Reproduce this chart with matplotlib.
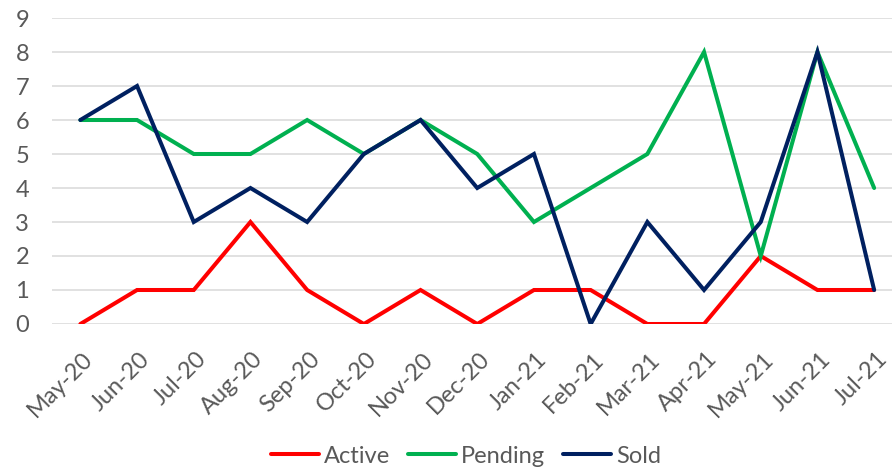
import matplotlib
matplotlib.use("Agg")
import matplotlib.pyplot as plt
from matplotlib.transforms import ScaledTranslation

months = ["May-20", "Jun-20", "Jul-20", "Aug-20", "Sep-20", "Oct-20", "Nov-20", "Dec-20",
          "Jan-21", "Feb-21", "Mar-21", "Apr-21", "May-21", "Jun-21", "Jul-21"]
active = [0, 1, 1, 3, 1, 0, 1, 0, 1, 1, 0, 0, 2, 1, 1]
pending = [6, 6, 5, 5, 6, 5, 6, 5, 3, 4, 5, 8, 2, 8, 4]
sold = [6, 7, 3, 4, 3, 5, 6, 4, 5, 0, 3, 1, 3, 8, 1]

plt.rcParams['font.family'] = ['Lato', 'DejaVu Sans']

W, H = 892, 469
fig = plt.figure(figsize=(W / 100, H / 100), dpi=100)
left_px, right_px, top_px, bot_px = 52, 902.5, 18, 324
ax = fig.add_axes([left_px / W, 1 - bot_px / H, (right_px - left_px) / W, (bot_px - top_px) / H])

x = list(range(len(months)))
kw = dict(lw=2.9, solid_joinstyle="miter", solid_capstyle="round")
ax.plot(x, active, color="#FF0000", label="Active", **kw)
ax.plot(x, pending, color="#00B050", label="Pending", **kw)
ax.plot(x, sold, color="#002060", label="Sold", **kw)

ax.set_xlim(-0.5, 14.5)
ax.set_ylim(0, 9)
ax.set_yticks(range(10))
ax.set_xticks(x)
ax.set_xticklabels(months, rotation=45, ha="right", rotation_mode="anchor")
ax.tick_params(axis="both", colors="#595959", labelsize=17, length=0)
ax.tick_params(axis="x", pad=17.5)
ax.tick_params(axis="y", pad=16.5)
offset = ScaledTranslation(2 / 100, 0, fig.dpi_scale_trans)
for lab in ax.get_xticklabels():
    lab.set_transform(lab.get_transform() + offset)
ax.grid(axis="y", color="#D9D9D9", lw=1.1)
ax.set_axisbelow(True)
for s in ["top", "right", "left", "bottom"]:
    ax.spines[s].set_visible(False)

leg = fig.legend(loc="center", ncol=3, frameon=False, fontsize=17,
                 bbox_to_anchor=(0.5225, 1 - 456 / H), handlelength=2.05,
                 handletextpad=0.2, columnspacing=0.75, borderaxespad=0)
for t in leg.get_texts():
    t.set_color("#595959")
for l in leg.get_lines():
    l.set_solid_capstyle("round")

fig.savefig("out.png", dpi=100)
